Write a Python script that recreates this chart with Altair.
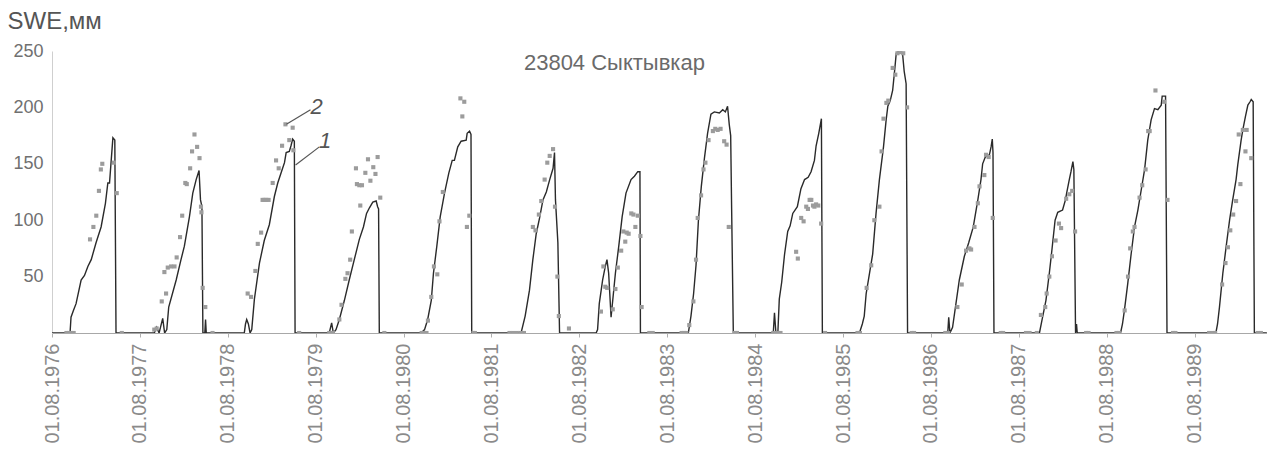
import altair as alt
import pandas as pd

FONT = "Liberation Sans"

# season start years (each season counted in days from 1 August)
SEASONS = list(range(1976, 1990))

# model SWE (series 1): days since 1 Aug of season year, SWE mm
LINE_DAYS = [
    [0, 75, 79, 89, 100, 121, 135, 149, 163, 183, 204, 222, 232, 239, 246, 253, 261, 266],
    [0, 60, 70, 80, 95, 103, 112, 120, 151, 171, 185, 206, 220, 234, 246, 252, 258, 262, 270, 273, 276],
    [0, 69, 74, 79, 86, 93, 100, 111, 132, 152, 173, 194, 208, 222, 236, 243, 256, 263, 270, 277, 280],
    [0, 57, 67, 74, 85, 99, 120, 140, 161, 182, 199, 212, 224, 238, 252, 258, 262, 265],
    [0, 73, 87, 100, 115, 124, 138, 152, 170, 188, 202, 211, 225, 239, 260, 264, 274, 280, 283],
    [0, 123, 140, 158, 172, 186, 200, 214, 228, 242, 256, 262, 266, 276, 283],
    [0, 70, 76, 83, 97, 108, 115, 122, 132, 139, 150, 164, 178, 194, 215, 229, 243, 252, 254],
    [0, 88, 99, 110, 120, 130, 142, 155, 168, 182, 196, 217, 231, 242, 251, 258, 264, 268, 275],
    [0, 75, 80, 86, 94, 100, 110, 122, 135, 145, 156, 175, 190, 205, 220, 232, 246, 253, 264, 275, 279],
    [0, 68, 80, 88, 96, 110, 123, 137, 151, 168, 179, 186, 196, 206, 214, 221, 234, 247, 254, 262, 268],
    [0, 70, 74, 79, 90, 104, 118, 139, 157, 176, 195, 208, 215, 226, 243, 250, 255, 258, 262],
    [0, 86, 99, 113, 127, 138, 151, 162, 182, 194, 199, 210, 217, 225, 229, 236, 240, 243],
    [0, 57, 65, 73, 87, 101, 115, 129, 143, 157, 170, 184, 198, 212, 226, 230, 244, 250],
    [0, 88, 95, 103, 117, 131, 145, 158, 172, 179, 193, 200, 211, 221, 230, 235, 243, 248, 300],
]
LINE_SWE = [
    [0, 0, 14, 20, 26, 47, 51, 59, 65, 80, 94, 115, 133, 133, 153, 173, 171, 0],
    [0, 0, 5, 0, 13, 0, 3, 23, 47, 65, 77, 103, 124, 136, 144, 118, 112, 0, 0, 12, 0],
    [0, 0, 8, 12, 8, 0, 3, 30, 62, 82, 96, 121, 133, 142, 151, 160, 161, 166, 172, 170, 0],
    [0, 0, 9, 0, 3, 12, 29, 47, 65, 83, 94, 106, 111, 116, 117, 112, 110, 0],
    [0, 0, 3, 12, 29, 53, 77, 103, 124, 142, 153, 153, 165, 170, 171, 177, 179, 176, 0],
    [0, 0, 15, 38, 65, 88, 102, 118, 125, 136, 146, 160, 118, 80, 0],
    [0, 0, 3, 26, 47, 59, 65, 53, 14, 29, 53, 77, 103, 124, 136, 139, 143, 143, 0],
    [0, 0, 15, 35, 60, 100, 130, 155, 177, 194, 196, 195, 198, 196, 201, 185, 175, 110, 0],
    [0, 0, 18, 0, 0, 30, 45, 70, 90, 95, 106, 112, 128, 136, 138, 143, 153, 166, 177, 190, 0],
    [0, 0, 8, 15, 35, 53, 70, 106, 136, 165, 189, 201, 206, 215, 232, 248, 250, 248, 232, 221, 0],
    [0, 0, 14, 0, 5, 26, 47, 68, 80, 94, 118, 136, 150, 156, 158, 165, 172, 160, 0],
    [0, 0, 14, 29, 53, 74, 100, 107, 109, 118, 124, 136, 143, 152, 145, 0, 8, 0],
    [0, 0, 8, 20, 44, 70, 94, 109, 127, 145, 171, 189, 199, 198, 202, 210, 210, 0],
    [0, 0, 8, 23, 53, 77, 100, 118, 136, 149, 171, 180, 192, 202, 205, 207, 205, 0, 0],
]

# observed SWE (series 2)
OBS_DAYS = [
    [60, 70, 80, 90, 158, 172, 184, 195, 203, 209, 257, 269, 290],
    [60, 70, 91, 102, 109, 116, 130, 144, 153, 167, 176, 189, 195, 209, 217, 227, 238, 248, 254, 256, 261, 272, 302],
    [83, 97, 115, 125, 139, 145, 153, 160, 170, 187, 201, 212, 226, 240, 256, 270, 273, 297],
    [57, 65, 72, 99, 108, 124, 133, 144, 151, 168, 172, 182, 186, 193, 207, 218, 228, 240, 249, 258, 269, 286],
    [75, 85, 95, 101, 115, 126, 140, 149, 163, 236, 244, 252, 263, 273, 290, 296],
    [75, 90, 105, 120, 135, 172, 183, 197, 207, 221, 232, 242, 256, 264, 274, 280, 322],
    [90, 100, 108, 116, 139, 150, 160, 174, 183, 191, 197, 205, 216, 225, 233, 243, 254, 259, 291, 305],
    [60, 70, 80, 92, 109, 120, 127, 141, 151, 159, 172, 190, 200, 210, 222, 237, 247, 256, 282, 290],
    [75, 85, 95, 105, 170, 177, 191, 201, 212, 219, 226, 233, 240, 246, 253, 262, 274, 290],
    [60, 70, 98, 117, 130, 151, 160, 168, 180, 188, 206, 217, 226, 238, 250, 266, 285, 295],
    [60, 72, 110, 128, 146, 160, 167, 181, 195, 202, 222, 229, 240, 257, 290, 300],
    [30, 45, 75, 92, 110, 116, 127, 138, 153, 167, 176, 197, 210, 222, 234, 280, 290],
    [40, 50, 74, 88, 97, 108, 115, 136, 147, 161, 172, 178, 202, 238, 252, 275, 285],
    [60, 75, 85, 114, 128, 138, 148, 160, 172, 183, 190, 200, 211, 216, 235, 262, 275],
]
OBS_SWE = [
    [0, 0, 0, 0, 83, 94, 104, 126, 145, 150, 151, 124, 0],
    [3, 4, 28, 54, 35, 58, 59, 59, 67, 85, 104, 133, 132, 146, 161, 176, 165, 155, 112, 107, 40, 23, 0],
    [35, 32, 55, 79, 89, 118, 118, 118, 118, 133, 153, 146, 166, 185, 171, 182, 162, 0],
    [0, 0, 0, 12, 25, 48, 53, 65, 90, 146, 132, 131, 113, 131, 142, 154, 135, 147, 141, 156, 120, 0],
    [0, 0, 0, 11, 32, 59, 52, 99, 125, 208, 192, 205, 94, 104, 0, 0],
    [0, 0, 0, 0, 0, 94, 91, 105, 117, 136, 151, 157, 163, 112, 50, 15, 4],
    [19, 59, 41, 40, 21, 39, 58, 73, 90, 81, 89, 88, 106, 105, 94, 104, 86, 23, 0, 0],
    [0, 0, 0, 7, 28, 65, 102, 122, 145, 151, 171, 179, 181, 180, 181, 170, 167, 94, 0, 0],
    [0, 0, 0, 0, 72, 66, 102, 99, 112, 110, 118, 118, 113, 112, 114, 113, 97, 0],
    [0, 0, 40, 60, 100, 112, 161, 190, 204, 206, 235, 229, 248, 249, 248, 200, 0, 0],
    [0, 0, 23, 43, 73, 75, 74, 94, 115, 130, 140, 158, 156, 102, 0, 0],
    [0, 0, 0, 16, 23, 35, 50, 68, 82, 97, 93, 119, 123, 126, 90, 0, 0],
    [0, 0, 20, 50, 75, 90, 94, 120, 131, 145, 179, 179, 215, 205, 118, 0, 0],
    [0, 0, 0, 43, 62, 76, 91, 105, 117, 176, 132, 180, 161, 180, 155, 0, 0],
]

# station caption placed inside the plot (date, SWE position in data space)
CAPTION_TEXT = ["23804 Сыктывкар"]
CAPTION_DATE = ["1982-12-25"]
CAPTION_SWE = [233]

# curve labels "1", "2" with leader lines
ANN_TEXT = ["2", "1"]
ANN_DATE = ["1979-08-06", "1979-09-10"]
ANN_SWE = [200, 170]
LEAD_DATE_FROM = ["1979-04-02", "1979-05-10"]
LEAD_SWE_FROM = [185, 149]
LEAD_DATE_TO = ["1979-07-11", "1979-08-17"]
LEAD_SWE_TO = [198, 165]

Y_TICKS = [50, 100, 150, 200, 250]


def build(days_list, swe_list):
    rows = []
    for year, days, swe in zip(SEASONS, days_list, swe_list):
        base = pd.Timestamp(year=year, month=8, day=1)
        for d, v in zip(days, swe):
            rows.append({"date": (base + pd.Timedelta(days=d)).strftime("%Y-%m-%dT%H:%M:%S"), "swe": v})
    return pd.DataFrame(rows)


line_df = build(LINE_DAYS, LINE_SWE)
obs_df = build(OBS_DAYS, OBS_SWE)
ann_df = pd.DataFrame({"t": ANN_TEXT, "date": [d + "T00:00:00" for d in ANN_DATE], "swe": ANN_SWE})
cap_df = pd.DataFrame({"t": CAPTION_TEXT, "date": [d + "T00:00:00" for d in CAPTION_DATE], "swe": CAPTION_SWE})
lead_df = pd.DataFrame({
    "d1": [d + "T00:00:00" for d in LEAD_DATE_FROM], "v1": LEAD_SWE_FROM,
    "d2": [d + "T00:00:00" for d in LEAD_DATE_TO], "v2": LEAD_SWE_TO,
})

x_scale = alt.Scale(domain=[alt.DateTime(year=1976, month=8, date=1),
                            alt.DateTime(year=1990, month=5, date=28, hours=12)])
y_scale = alt.Scale(domain=[0, 250], nice=False, zero=True)

x_axis = alt.Axis(
    values=[alt.DateTime(year=y, month=8, date=1) for y in SEASONS],
    format="%d.%m.%Y", labelAngle=-90, labelFontSize=20, labelFont=FONT,
    labelColor="#8a8a8a", labelPadding=6, labelOverlap=False, labelFlush=False,
    tickSize=4, tickColor="#b0b0b0", domainColor="#a8a8a8", grid=False, title=None,
)
y_axis = alt.Axis(
    values=Y_TICKS, labelFontSize=18, labelFont=FONT, labelColor="#707070",
    labelPadding=9, ticks=False, domainColor="#cfcfcf", grid=False,
    title="SWE,мм", titleAngle=0, titleAlign="left", titleBaseline="alphabetic",
    titleX=-45, titleY=-23, titleFontSize=24, titleFont=FONT, titleFontWeight="normal",
    titleColor="#555555",
)

x_enc = alt.X("date:T", scale=x_scale, axis=x_axis)
y_enc = alt.Y("swe:Q", scale=y_scale, axis=y_axis)

points = alt.Chart(obs_df).mark_square(size=17, color="#9c9c9c", opacity=1, clip=True).encode(x=x_enc, y=y_enc)
line = alt.Chart(line_df).mark_line(color="#2a2a2a", strokeWidth=1.4, clip=True).encode(
    x=x_enc, y=y_enc, order="date:T")
leaders = alt.Chart(lead_df).mark_rule(color="#555555", strokeWidth=1.2).encode(
    x=alt.X("d1:T", scale=x_scale), y=alt.Y("v1:Q", scale=y_scale),
    x2="d2:T", y2="v2:Q")
labels = alt.Chart(ann_df).mark_text(fontSize=22, font=FONT, fontStyle="italic", color="#555555",
                                     align="center", baseline="middle").encode(
    x=alt.X("date:T", scale=x_scale), y=alt.Y("swe:Q", scale=y_scale), text="t:N")
caption = alt.Chart(cap_df).mark_text(fontSize=22, font=FONT, color="#6a6a6a",
                                      align="center", baseline="alphabetic").encode(
    x=alt.X("date:T", scale=x_scale), y=alt.Y("swe:Q", scale=y_scale), text="t:N")

chart = alt.layer(line, points, leaders, labels, caption).properties(
    width=1215, height=282,
    autosize=alt.AutoSizeParams(type="none"),
    padding={"left": 44, "top": 43, "right": 0, "bottom": 111},
).configure_view(stroke=None)

chart.save("out.html", embed_options={"renderer": "svg", "actions": False})
